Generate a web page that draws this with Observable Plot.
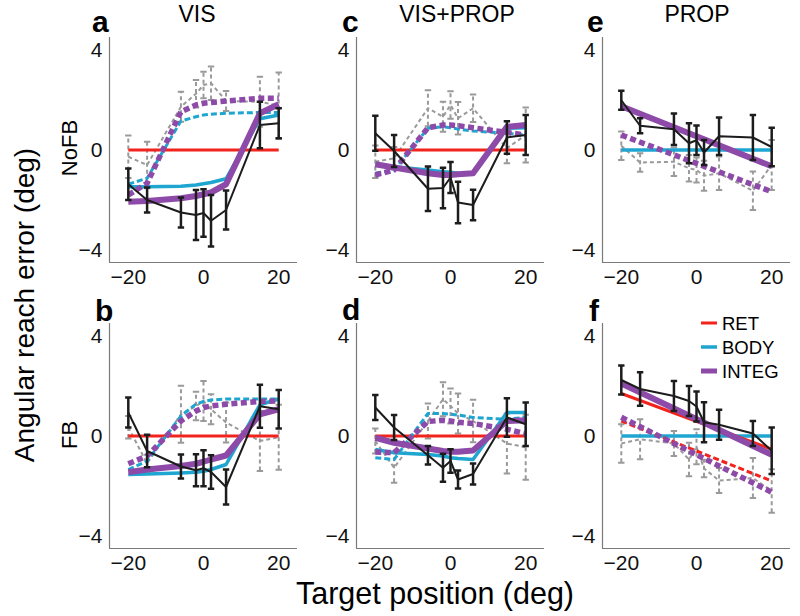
<!DOCTYPE html>
<html><head><meta charset="utf-8">
<script src="https://cdn.jsdelivr.net/npm/d3@7"></script>
<script src="https://cdn.jsdelivr.net/npm/@observablehq/plot@0.6"></script>
<style>
body{margin:0;background:#fff;}
#fig{position:relative;width:800px;height:616px;overflow:hidden;font-family:"Liberation Sans",Arial,sans-serif;}
#fig > svg{position:absolute;}
</style></head><body><div id="fig"></div>
<script>
// ---------- data ----------
const xs = [-20, -15, -6, -2, 0, 2, 6, 15, 20];   // target positions (deg)
const ends = [-20, 20];                             // straight model lines
const zeroModel = [0, 0];
const xTicks = [-20, 0, 20];
const yTicks = [-4, 0, 4];

// Panel a: VIS / NoFB
const aSolidMean = [-1.37, -2.0, -2.5, -2.6, -2.52, -2.83, -2.4, 1.0, 1.07];
const aSolidErr  = [0.63, 0.5, 0.6, 1.0, 0.95, 1.03, 0.78, 0.93, 0.6];
const aDashMean  = [-0.27, -0.6, 1.73, 2.25, 2.6, 2.67, 1.96, 1.93, 1.77];
const aDashErr   = [0.85, 0.93, 0.6, 0.55, 0.53, 0.67, 0.4, 1.0, 1.33];
const aBodySolid = [-1.47, -1.47, -1.45, -1.4, -1.35, -1.3, -1.15, 1.25, 1.4];
const aBodyDash  = [-1.37, -1.13, 1.16, 1.33, 1.4, 1.43, 1.47, 1.5, 1.5];
const aIntegSolid = [-2.07, -2.04, -1.93, -1.84, -1.77, -1.7, -1.37, 1.47, 1.83];
const aIntegDash  = [-1.8, -1.33, 1.53, 1.8, 1.87, 1.9, 1.96, 2.07, 2.07];

// Panel b: VIS / FB
const bSolidMean = [0.94, -0.6, -1.22, -1.37, -1.29, -1.44, -2.04, 1.19, 1.07];
const bSolidErr  = [0.6, 0.65, 0.48, 0.64, 0.72, 0.67, 0.7, 0.86, 0.77];
const bDashMean  = [0.35, -1.1, 0.87, 1.2, 1.4, 1.07, 0.54, -0.2, -0.05];
const bDashErr   = [0.45, 0.35, 1.14, 0.57, 0.8, 0.6, 0.8, 1.2, 1.3];
const bBodySolid = [-1.54, -1.52, -1.48, -1.45, -1.41, -1.34, -1.14, 1.25, 1.48];
const bBodyDash  = [-1.34, -1.0, 0.8, 1.28, 1.38, 1.44, 1.48, 1.48, 1.48];
const bIntegSolid = [-1.45, -1.34, -1.2, -1.11, -1.03, -0.94, -0.78, 0.87, 1.07];
const bIntegDash  = [-1.11, -0.8, 0.6, 1.0, 1.14, 1.2, 1.27, 1.38, 1.4];

// Panel c: VIS+PROP / NoFB
const cSolidMean = [0.67, -0.04, -1.55, -1.52, -1.1, -2.1, -2.2, 0.5, 0.6];
const cSolidErr  = [0.7, 0.64, 0.89, 0.81, 0.62, 0.83, 0.61, 0.65, 0.8];
const cDashMean  = [-0.47, -0.33, 1.67, 1.33, 1.8, 1.27, 1.67, 0.07, 0.6];
const cDashErr   = [0.65, 0.45, 0.72, 0.6, 0.55, 0.65, 0.55, 0.6, 1.1];
const cBodySolid = [-0.6, -0.67, -0.8, -0.87, -0.89, -0.93, -0.97, 0.87, 0.89];
const cBodyDash  = [-0.93, -0.8, 0.87, 0.93, 0.89, 0.84, 0.76, 0.67, 0.6];
const cIntegSolid = [-0.57, -0.7, -0.93, -1.0, -1.0, -0.97, -0.93, 0.93, 1.0];
const cIntegDash  = [-1.0, -0.8, 0.89, 1.0, 1.0, 0.97, 0.89, 0.7, 0.6];

// Panel d: VIS+PROP / FB
const dSolidMean = [1.14, 0.34, -0.77, -1.27, -1.0, -1.74, -1.52, 0.74, 0.47];
const dSolidErr  = [0.5, 0.5, 0.37, 0.56, 0.47, 0.36, 0.42, 0.77, 0.87];
const dDashMean  = [-0.2, -1.27, 0.6, 1.47, 1.2, 0.9, 0.6, -0.3, -0.45];
const dDashErr   = [0.5, 0.6, 0.7, 0.68, 0.7, 0.8, 0.85, 1.2, 1.3];
const dBodySolid = [-0.54, -0.67, -0.74, -0.8, -0.87, -0.9, -0.94, 0.94, 0.94];
const dBodyDash  = [-0.87, -0.94, 0.9, 0.9, 0.87, 0.84, 0.74, 0.67, 0.75];
const dIntegSolid = [-0.07, -0.27, -0.5, -0.6, -0.63, -0.63, -0.58, 0.6, 0.63];
const dIntegDash  = [-0.64, -0.67, 0.58, 0.63, 0.6, 0.55, 0.5, 0.27, 0.09];

// Panel e: PROP / NoFB
const eSolidMean = [1.99, 0.97, 0.83, 0.27, 0.39, -0.1, 0.55, 0.5, 0.12];
const eSolidErr  = [0.38, 0.3, 0.63, 0.8, 0.59, 0.5, 0.75, 0.9, 0.77];
const eDashMean  = [0.17, -0.5, -0.47, -0.73, -0.8, -1.03, -0.93, -1.63, -0.6];
const eDashErr   = [0.57, 0.37, 0.57, 0.53, 0.5, 0.6, 0.67, 0.77, 1.0];
const eIntegSolid = [1.75, -0.65];
const eIntegDash  = [0.6, -1.67];

// Panel f: PROP / FB
const fSolidMean = [2.24, 1.88, 1.6, 1.4, 1.18, 0.55, 0.45, 0.1, -0.59];
const fSolidErr  = [0.58, 0.67, 0.6, 0.6, 0.6, 0.8, 0.6, 0.5, 0.93];
const fDashMean  = [-0.3, -0.13, -0.3, -0.94, -0.43, -1.3, -1.78, -1.68, -2.2];
const fDashErr   = [0.77, 0.8, 0.5, 0.67, 0.7, 0.35, 0.5, 0.8, 0.87];
const fRetSolid  = [1.7, -0.53];
const fRetDash   = [0.6, -1.8];
const fIntegSolid = [2.1, -0.75];
const fIntegDash  = [0.75, -2.25];

const legendLabels = ["RET", "BODY", "INTEG"];
const colTitles = ["VIS", "VIS+PROP", "PROP"];
const rowTitles = ["NoFB", "FB"];

// ---------- style ----------
const C = {red: "#f2231d", cyan: "#1ea5d0", purple: "#8d4aa8", black: "#1c1c1c", gray: "#9a9a9a", axis: "#7a7a7a"};
const FONT = '"Liberation Sans", Arial, sans-serif';

function errData(mean, err) {
  return xs.map((x, i) => ({x, y: mean[i], lo: mean[i] - err[i], hi: mean[i] + err[i]}));
}
function series(xv, yv) { return xv.map((x, i) => ({x, y: yv[i]})); }

function dataMarks(d, color, dash, barW) {
  const cap = 0.85;
  return [
    Plot.ruleX(d, {x: "x", y1: "lo", y2: "hi", stroke: color, strokeWidth: barW, strokeDasharray: dash}),
    Plot.link(d, {x1: r => r.x - cap, x2: r => r.x + cap, y1: "hi", y2: "hi", stroke: color, strokeWidth: barW}),
    Plot.link(d, {x1: r => r.x - cap, x2: r => r.x + cap, y1: "lo", y2: "lo", stroke: color, strokeWidth: barW}),
    Plot.line(d, {x: "x", y: "y", stroke: color, strokeWidth: 2, strokeDasharray: dash, strokeLinecap: "butt"})
  ];
}
function model(xv, yv, color, w, dash) {
  return Plot.line(series(xv, yv), {x: "x", y: "y", stroke: color, strokeWidth: w,
    strokeDasharray: dash, strokeLinecap: "butt", strokeLinejoin: "round"});
}

const ML = 40, MR = 10, MT = 10, MB = 40, FW = 188, FH = 225;

const panels = [
  {left: 109, top: 36.5, solid: errData(aSolidMean, aSolidErr), dash: errData(aDashMean, aDashErr),
   models: [model(ends, zeroModel, C.red, 3),
            model(xs, aBodyDash, C.cyan, 3, "6,3"), model(xs, aBodySolid, C.cyan, 3.5),
            model(xs, aIntegDash, C.purple, 5.5, "6,3.5"), model(xs, aIntegSolid, C.purple, 6)]},
  {left: 109, top: 323, solid: errData(bSolidMean, bSolidErr), dash: errData(bDashMean, bDashErr),
   models: [model(ends, zeroModel, C.red, 3),
            model(xs, bBodyDash, C.cyan, 3, "6,3"), model(xs, bBodySolid, C.cyan, 3.5),
            model(xs, bIntegDash, C.purple, 5.5, "6,3.5"), model(xs, bIntegSolid, C.purple, 6)]},
  {left: 356, top: 36.5, solid: errData(cSolidMean, cSolidErr), dash: errData(cDashMean, cDashErr),
   models: [model(ends, zeroModel, C.red, 3),
            model(xs, cBodyDash, C.cyan, 3, "6,3"), model(xs, cBodySolid, C.cyan, 3.5),
            model(xs, cIntegDash, C.purple, 5.5, "6,3.5"), model(xs, cIntegSolid, C.purple, 6)]},
  {left: 356, top: 323, solid: errData(dSolidMean, dSolidErr), dash: errData(dDashMean, dDashErr),
   models: [model(ends, zeroModel, C.red, 3),
            model(xs, dBodyDash, C.cyan, 3, "6,3"), model(xs, dBodySolid, C.cyan, 3.5),
            model(xs, dIntegDash, C.purple, 5.5, "6,3.5"), model(xs, dIntegSolid, C.purple, 6)]},
  {left: 602, top: 36.5, solid: errData(eSolidMean, eSolidErr), dash: errData(eDashMean, eDashErr),
   models: [model(ends, zeroModel, C.cyan, 3.5),
            model(ends, eIntegDash, C.purple, 5.5, "6,3.5"), model(ends, eIntegSolid, C.purple, 6)]},
  {left: 602, top: 323, solid: errData(fSolidMean, fSolidErr), dash: errData(fDashMean, fDashErr),
   models: [model(ends, zeroModel, C.cyan, 3.5),
            model(ends, fRetDash, C.red, 3, "6,3"), model(ends, fRetSolid, C.red, 3),
            model(ends, fIntegDash, C.purple, 5.5, "6,3.5"), model(ends, fIntegSolid, C.purple, 6)]}
];

const fig = document.getElementById("fig");
for (const p of panels) {
  const chart = Plot.plot({
    width: ML + FW + MR, height: MT + FH + MB,
    marginLeft: ML, marginRight: MR, marginTop: MT, marginBottom: MB,
    style: {fontSize: "21px", fontFamily: FONT, background: "transparent", overflow: "visible", color: "#111"},
    x: {domain: [-25, 25], ticks: xTicks, tickSize: 0, tickPadding: 7, label: null},
    y: {domain: [-4.5, 4.5], ticks: yTicks, tickSize: 0, tickPadding: 7, label: null},
    marks: [
      ...dataMarks(p.dash, C.gray, "4,3", 2),
      ...p.models,
      ...dataMarks(p.solid, C.black, null, 2.5),
      Plot.ruleX([-25], {stroke: C.axis, strokeWidth: 1.2}),
      Plot.ruleY([-4.5], {stroke: C.axis, strokeWidth: 1.2})
    ]
  });
  chart.style.position = "absolute";
  chart.style.left = (p.left - ML) + "px";
  chart.style.top = (p.top - MT) + "px";
  fig.appendChild(chart);
}

// ---------- overlay text ----------
const ov = d3.select(fig).append("svg").attr("width", 800).attr("height", 616)
  .style("left", "0px").style("top", "0px").style("pointer-events", "none")
  .attr("font-family", FONT);

const letters = [["a", 92, 32], ["b", 95, 321], ["c", 342, 32], ["d", 342, 320], ["e", 587, 32], ["f", 589, 321]];
for (const [t, x, y] of letters)
  ov.append("text").attr("x", x).attr("y", y).attr("font-size", 30).attr("font-weight", "bold").text(t);

const titleX = [197, 457, 697];
colTitles.forEach((t, i) => ov.append("text").attr("x", titleX[i]).attr("y", 22)
  .attr("text-anchor", "middle").attr("font-size", 23).text(t));

const rowY = [148, 435];
rowTitles.forEach((t, i) => ov.append("text").attr("transform", `translate(77,${rowY[i]}) rotate(-90)`)
  .attr("text-anchor", "middle").attr("font-size", 22).text(t));

ov.append("text").attr("transform", "translate(34,305) rotate(-90)").attr("text-anchor", "middle")
  .attr("font-size", 28).text("Angular reach error (deg)");
ov.append("text").attr("x", 435).attr("y", 604).attr("text-anchor", "middle")
  .attr("font-size", 30.5).text("Target position (deg)");

// legend (panel f)
const legColors = [C.red, C.cyan, C.purple];
const legW = [3, 3.5, 5];
const legY = [323, 347, 371];
legendLabels.forEach((t, i) => {
  ov.append("line").attr("x1", 701).attr("x2", 717).attr("y1", legY[i]).attr("y2", legY[i])
    .attr("stroke", legColors[i]).attr("stroke-width", legW[i]);
  ov.append("text").attr("x", 722).attr("y", legY[i] + 6.5).attr("font-size", 18.5).text(t);
});
</script>
</body></html>
